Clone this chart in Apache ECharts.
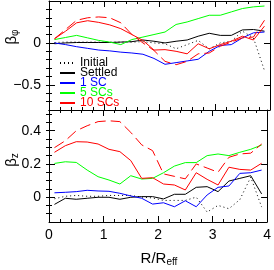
<!DOCTYPE html>
<html><head><meta charset="utf-8">
<script src="https://cdn.jsdelivr.net/npm/echarts@6/dist/echarts.min.js"></script>
<style>html,body{margin:0;padding:0;background:#fff}#c{width:274px;height:270px}</style>
</head><body><div id="c"></div>
<script>
const FONT = '"Liberation Sans", Arial, Helvetica, sans-serif';
const xs = [0.1, 0.3, 0.5, 0.7, 0.9, 1.1, 1.3, 1.5, 1.7, 1.9, 2.1, 2.3, 2.5, 2.7, 2.9, 3.1, 3.3, 3.5, 3.7, 3.9];

// beta_phi (top panel)
const initPhi    = [0.005, 0.01, 0.01, 0.01, 0.01, 0.01, 0.01, 0.01, 0.015, 0.0, -0.01, -0.07, -0.02, 0.03, -0.07, 0.0, 0.02, 0.14, 0.06, -0.33];
const settledPhi = [-0.01, 0.0, 0.005, 0.005, 0.005, 0.005, 0.01, 0.015, 0.035, 0.02, 0.0, 0.02, 0.035, 0.08, 0.115, 0.09, 0.09, 0.155, 0.16, 0.14];
const sc1Phi     = [0.0, -0.02, -0.045, -0.065, -0.085, -0.095, -0.11, -0.12, -0.135, -0.185, -0.255, -0.235, -0.215, -0.195, -0.1, -0.03, -0.02, 0.06, 0.12, 0.13];
const sc5Phi     = [0.04, 0.065, 0.09, 0.06, 0.03, 0.01, -0.02, 0.04, 0.07, 0.1, 0.13, 0.22, 0.25, 0.29, 0.33, 0.33, 0.37, 0.41, 0.43, 0.44];
const sc10Phi    = [0.05, 0.14, 0.24, 0.265, 0.245, 0.215, 0.17, 0.1, 0.03, -0.085, -0.08, -0.1, -0.13, -0.01, -0.07, -0.02, 0.02, 0.08, 0.035, 0.2];
const sc10bPhi   = [0.05, 0.16, 0.27, 0.3, 0.31, 0.3, 0.24, 0.1, 0.0, -0.09, -0.22, -0.26, -0.22, -0.13, -0.12, -0.04, 0.01, 0.06, 0.07, 0.27];

// beta_z (bottom panel)
const initZ    = [-0.01, 0.005, 0.01, 0.005, 0.005, 0.01, 0.01, 0.01, 0.0, -0.005, -0.02, -0.02, -0.02, 0.0, -0.09, -0.05, -0.07, -0.015, 0.12, -0.06];
const settledZ = [-0.044, -0.007, -0.013, -0.007, -0.001, -0.001, -0.013, -0.001, 0.003, 0.003, -0.011, 0.017, 0.017, 0.059, 0.063, 0.033, 0.097, 0.113, 0.129, 0.019];
const sc1Z     = [0.026, 0.029, 0.033, 0.041, 0.037, 0.035, 0.023, 0.007, -0.007, -0.042, -0.034, -0.058, -0.022, -0.058, 0.013, 0.059, 0.067, 0.143, 0.147, 0.163];
const sc5Z     = [0.203, 0.213, 0.209, 0.163, 0.123, 0.103, 0.079, 0.129, 0.109, 0.113, 0.147, 0.187, 0.208, 0.208, 0.25, 0.26, 0.25, 0.27, 0.288, 0.314];
const sc10Z    = [0.27, 0.31, 0.334, 0.332, 0.32, 0.288, 0.274, 0.22, 0.113, 0.117, 0.079, 0.073, 0.043, 0.147, 0.107, 0.073, 0.18, 0.167, 0.163, 0.204];
const sc10bZ   = [0.298, 0.34, 0.40, 0.43, 0.455, 0.46, 0.455, 0.39, 0.315, 0.28, 0.14, 0.125, 0.11, 0.2, 0.175, 0.15, 0.24, 0.26, 0.265, 0.32];

// ticks
const phiMajor = [-0.5, 0];
const phiMinor = [-0.7, -0.6, -0.5, -0.4, -0.3, -0.2, -0.1, 0, 0.1, 0.2, 0.3, 0.4];
const zMajor = [0, 0.2, 0.4];
const zMinor = [-0.1, -0.05, 0, 0.05, 0.1, 0.15, 0.2, 0.25, 0.3, 0.35, 0.4, 0.45, 0.5];

const BLACK = '#000000', BLUE = '#0000ff', GREEN = '#00ff00', RED = '#ff0000';

function xAx(grid, pos, labels) {
  return {
    type: 'value', gridIndex: grid, position: pos, min: 0, max: 4, interval: 1,
    axisLine: { show: true, onZero: false, lineStyle: { color: BLACK, width: 1 } },
    axisTick: { show: true, inside: true, length: 6, lineStyle: { color: BLACK } },
    minorTick: { show: true, splitNumber: 5, length: 3, lineStyle: { color: BLACK } },
    splitLine: { show: false }, minorSplitLine: { show: false },
    axisLabel: { show: labels, margin: 6, color: BLACK, fontSize: 14, fontFamily: FONT,
      formatter: v => String(v) }
  };
}
function yAxes(grid, pos, min, max, major, minor, labels) {
  return [{
    type: 'value', gridIndex: grid, position: pos, min: min, max: max,
    axisLine: { show: true, onZero: false, lineStyle: { color: BLACK, width: 1 } },
    axisTick: { show: true, inside: true, length: 6, customValues: major, lineStyle: { color: BLACK } },
    splitLine: { show: false },
    axisLabel: { show: labels, customValues: major, margin: 8, color: BLACK, fontSize: 14, fontFamily: FONT,
      formatter: v => String(v).replace('-', '\u2212') }
  }, {
    type: 'value', gridIndex: grid, position: pos, min: min, max: max,
    axisLine: { show: false },
    axisTick: { show: true, inside: true, length: 3, customValues: minor, lineStyle: { color: BLACK } },
    splitLine: { show: false },
    axisLabel: { show: false }
  }];
}
function pairs(ys) { return xs.map((x, i) => [x, ys[i]]); }
function ser(name, ys, xi, yi, color, type) {
  return { type: 'line', name: name, xAxisIndex: xi, yAxisIndex: yi, data: pairs(ys),
    symbol: 'none', showSymbol: false, animation: false, clip: true,
    lineStyle: { color: color, width: 1, type: type }, itemStyle: { color: color } };
}

const option = {
  animation: false,
  backgroundColor: '#ffffff',
  grid: [
    { left: 49, right: 4, top: 1, height: 109 },
    { left: 49, right: 4, top: 110, height: 112 }
  ],
  xAxis: [xAx(0, 'bottom', false), xAx(0, 'top', false), xAx(1, 'bottom', true), xAx(1, 'top', false)],
  yAxis: [].concat(
    yAxes(0, 'left', -0.8, 0.5, phiMajor, phiMinor, true),
    yAxes(0, 'right', -0.8, 0.5, phiMajor, phiMinor, false),
    yAxes(1, 'left', -0.15, 0.525, zMajor, zMinor, true),
    yAxes(1, 'right', -0.15, 0.525, zMajor, zMinor, false)
  ),
  legend: {
    selectedMode: false, orient: 'vertical', left: 59, top: 57, padding: 0,
    itemWidth: 15, itemHeight: 10, itemGap: -2,
    itemStyle: { color: 'rgba(0,0,0,0)', borderColor: 'rgba(0,0,0,0)', borderWidth: 0, opacity: 0 },
    lineStyle: { width: 2 },
    textStyle: { fontSize: 12, lineHeight: 10, fontFamily: FONT, color: BLACK },
    data: [
      { name: 'Initial' },
      { name: 'Settled' },
      { name: '1 SC', textStyle: { color: BLUE } },
      { name: '5 SCs', textStyle: { color: GREEN } },
      { name: '10 SCs', textStyle: { color: RED } }
    ]
  },
  graphic: [
    { type: 'text', x: 12, y: 37, rotation: Math.PI / 2,
      style: { text: '{b|\u03b2}{s|\u03c6}', align: 'center', verticalAlign: 'middle', fill: BLACK,
        rich: { b: { fontSize: 15, fontFamily: FONT, fill: BLACK }, s: { fontSize: 10, fontFamily: FONT, fill: BLACK, padding: [7, 0, 0, 0] } } } },
    { type: 'text', x: 12, y: 160, rotation: Math.PI / 2,
      style: { text: '{b|\u03b2}{s|z}', align: 'center', verticalAlign: 'middle', fill: BLACK,
        rich: { b: { fontSize: 15, fontFamily: FONT, fill: BLACK }, s: { fontSize: 10, fontFamily: FONT, fill: BLACK, padding: [7, 0, 0, 0] } } } },
    { type: 'text', x: 159, y: 259,
      style: { text: '{a|R/R}{s|eff}', align: 'center', verticalAlign: 'middle', fill: BLACK,
        rich: { a: { fontSize: 15, fontFamily: FONT, fill: BLACK }, s: { fontSize: 10, fontFamily: FONT, fill: BLACK, padding: [7, 0, 0, 0] } } } }
  ],
  series: [
    ser('Initial', initPhi, 0, 0, BLACK, [1, 3]),
    ser('Settled', settledPhi, 0, 0, BLACK, 'solid'),
    ser('1 SC', sc1Phi, 0, 0, BLUE, 'solid'),
    ser('5 SCs', sc5Phi, 0, 0, GREEN, 'solid'),
    ser('10 SCs', sc10Phi, 0, 0, RED, 'solid'),
    ser('10 SCs (later)', sc10bPhi, 0, 0, RED, [11, 5]),
    ser('Initial', initZ, 2, 4, BLACK, [1, 3]),
    ser('Settled', settledZ, 2, 4, BLACK, 'solid'),
    ser('1 SC', sc1Z, 2, 4, BLUE, 'solid'),
    ser('5 SCs', sc5Z, 2, 4, GREEN, 'solid'),
    ser('10 SCs', sc10Z, 2, 4, RED, 'solid'),
    ser('10 SCs (later)', sc10bZ, 2, 4, RED, [11, 5])
  ]
};
const chart = echarts.init(document.getElementById('c'), null, { renderer: 'canvas' });
chart.setOption(option);
</script></body></html>
